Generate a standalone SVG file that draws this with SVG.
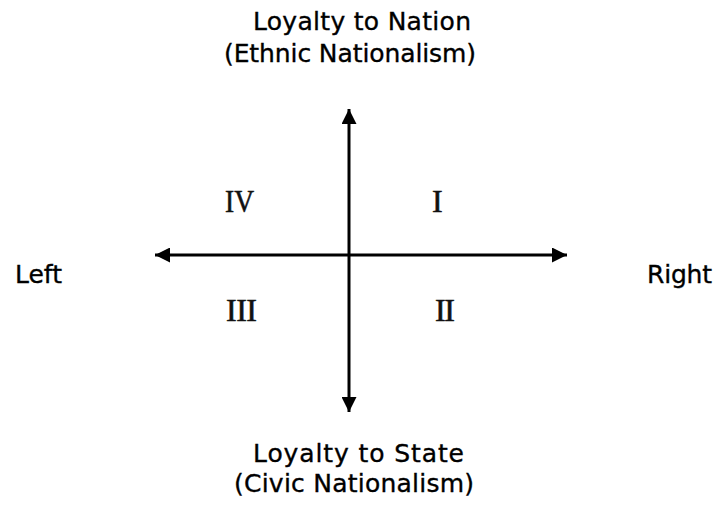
<svg xmlns="http://www.w3.org/2000/svg" width="718" height="505" viewBox="0 0 718 505">
<style>
.lbl{font-family:"DejaVu Sans",Verdana,sans-serif;font-size:25px;fill:#000;stroke:#000;stroke-width:0.35}
.rn{font-family:"Liberation Serif","Times New Roman",serif;font-size:32px;fill:#111;stroke:#111;stroke-width:0.6}
.axis{stroke:#000;stroke-width:3;fill:none}
</style>
<defs>
<marker id="ah" viewBox="0 0 10 10" refX="10" refY="5" markerWidth="5.6" markerHeight="5" orient="auto" markerUnits="strokeWidth">
<path d="M0,0 L10,5 L0,10 z" fill="#000"/>
</marker>
</defs>
<rect width="718" height="505" fill="#fff"/>
<g id="connectors">
<line class="axis" x1="349" y1="255" x2="349" y2="109" marker-end="url(#ah)"/>
<line class="axis" x1="349" y1="255" x2="349" y2="412" marker-end="url(#ah)"/>
<line class="axis" x1="349" y1="255" x2="155" y2="255" marker-end="url(#ah)"/>
<line class="axis" x1="349" y1="255" x2="567" y2="255" marker-end="url(#ah)"/>
</g>
<g id="top">
<text class="lbl" x="253" y="30" textLength="218">Loyalty to Nation</text>
<text class="lbl" x="224" y="62" textLength="252">(Ethnic Nationalism)</text>
</g>
<g id="bottom">
<text class="lbl" x="253" y="462" textLength="211">Loyalty to State</text>
<text class="lbl" x="234" y="492" textLength="240">(Civic Nationalism)</text>
</g>
<g id="left"><text class="lbl" x="15" y="283" textLength="47">Left</text></g>
<g id="right"><text class="lbl" x="647" y="283" textLength="65">Right</text></g>
<g id="q4"><text class="rn" x="225" y="212" textLength="29" lengthAdjust="spacingAndGlyphs">IV</text></g>
<g id="q1"><text class="rn" x="432" y="212" textLength="10">I</text></g>
<g id="q3"><text class="rn" x="226" y="321" textLength="31">III</text></g>
<g id="q2"><text class="rn" x="435" y="321" textLength="20">II</text></g>
</svg>
